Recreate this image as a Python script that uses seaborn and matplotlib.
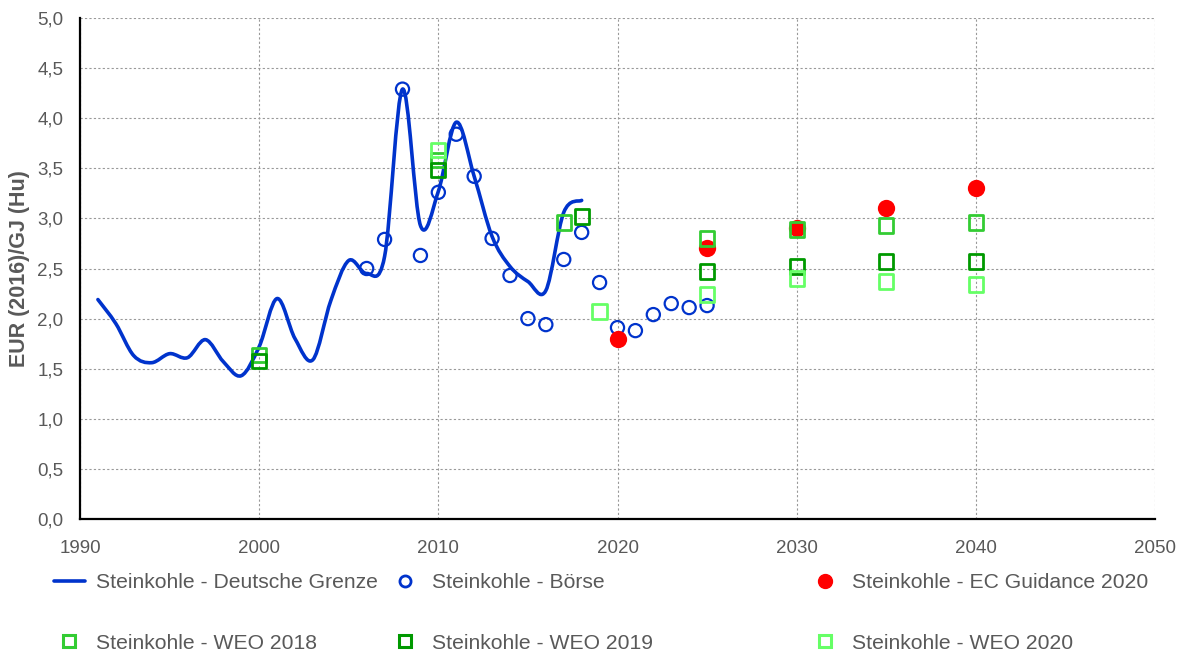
import numpy as np
import pandas as pd
import matplotlib
matplotlib.use("Agg")
import matplotlib.pyplot as plt
from matplotlib.path import Path
from matplotlib.patches import PathPatch
from matplotlib.lines import Line2D
from matplotlib.ticker import FuncFormatter, MultipleLocator
import seaborn as sns

# --- data ---
grenze_years = list(range(1991, 2019))
grenze_vals = [2.19, 1.95, 1.63, 1.56, 1.65, 1.61, 1.79, 1.57, 1.43, 1.72,
               2.20, 1.80, 1.59, 2.18, 2.58, 2.45, 2.62, 4.29, 2.93, 3.27,
               3.96, 3.42, 2.82, 2.52, 2.37, 2.28, 3.06, 3.18]

boerse_years = list(range(2006, 2026))
boerse_vals = [2.50, 2.79, 4.29, 2.63, 3.26, 3.84, 3.42, 2.80, 2.43, 2.00,
               1.94, 2.59, 2.86, 2.36, 1.91, 1.88, 2.04, 2.15, 2.11, 2.13]

ec_years = [2020, 2025, 2030, 2035, 2040]
ec_vals = [1.80, 2.70, 2.90, 3.10, 3.30]

weo18_years = [2000, 2010, 2017, 2025, 2030, 2035, 2040]
weo18_vals = [1.64, 3.58, 2.96, 2.80, 2.89, 2.93, 2.96]

weo19_years = [2000, 2010, 2018, 2025, 2030, 2035, 2040]
weo19_vals = [1.58, 3.48, 3.02, 2.47, 2.52, 2.57, 2.57]

weo20_years = [2010, 2019, 2025, 2030, 2035, 2040]
weo20_vals = [3.68, 2.07, 2.24, 2.40, 2.37, 2.34]

labels = ["Steinkohle - Deutsche Grenze", "Steinkohle - Börse",
          "Steinkohle - EC Guidance 2020", "Steinkohle - WEO 2018",
          "Steinkohle - WEO 2019", "Steinkohle - WEO 2020"]

BLUE = "#0033CC"
RED = "#FF0000"
G18 = "#33CC33"
G19 = "#009900"
G20 = "#66FF66"
GREY = "#595959"

sns.set_theme(style="white")
plt.rcParams["font.family"] = ["Liberation Sans", "DejaVu Sans"]

fig = plt.figure(figsize=(11.87, 6.55), dpi=100)
ax = fig.add_axes([80 / 1187, 1 - 519 / 655, (1155 - 80) / 1187, (519 - 18) / 655])

# smoothed line (Excel-style bezier through the yearly values)
pts = np.column_stack([grenze_years, grenze_vals]).astype(float)
n = len(pts)
verts = [pts[0]]
codes = [Path.MOVETO]
for i in range(n - 1):
    p0 = pts[max(i - 1, 0)]
    p1 = pts[i]
    p2 = pts[i + 1]
    p3 = pts[min(i + 2, n - 1)]
    verts += [p1 + (p2 - p0) / 6, p2 - (p3 - p1) / 6, p2]
    codes += [Path.CURVE4] * 3
ax.add_patch(PathPatch(Path(verts, codes), fill=False, edgecolor=BLUE,
                       lw=2.6, capstyle="round", joinstyle="round", zorder=2))

df_b = pd.DataFrame({"year": boerse_years, "val": boerse_vals})
sns.scatterplot(data=df_b, x="year", y="val", ax=ax, marker="o", s=90,
                facecolor="none", edgecolor=BLUE, linewidth=1.6, zorder=3)

df_ec = pd.DataFrame({"year": ec_years, "val": ec_vals})
sns.scatterplot(data=df_ec, x="year", y="val", ax=ax, marker="o", s=155,
                color=RED, edgecolor=RED, linewidth=0, zorder=4)

for yrs, vals, col in [(weo18_years, weo18_vals, G18),
                       (weo19_years, weo19_vals, G19),
                       (weo20_years, weo20_vals, G20)]:
    d = pd.DataFrame({"year": yrs, "val": vals})
    sns.scatterplot(data=d, x="year", y="val", ax=ax, marker="s", s=105,
                    facecolor="none", edgecolor=col, linewidth=2.0, zorder=5)

ax.set_xlim(1990, 2050)
ax.set_ylim(0, 5)
ax.xaxis.set_major_locator(MultipleLocator(10))
ax.yaxis.set_major_locator(MultipleLocator(0.5))
ax.yaxis.set_major_formatter(FuncFormatter(lambda v, p: f"{v:.1f}".replace(".", ",")))
ax.set_xlabel("")
ax.set_ylabel("EUR (2016)/GJ (Hu)", fontsize=15.5, fontweight="bold", color=GREY, labelpad=5)
ax.tick_params(axis="both", length=0, labelsize=13.5, labelcolor=GREY)
ax.tick_params(axis="x", pad=15)
ax.tick_params(axis="y", pad=12)
ax.grid(True, color="#999999", linestyle=(0, (2, 2)), linewidth=0.8)
ax.set_axisbelow(True)
for side in ["top", "right"]:
    ax.spines[side].set_visible(False)
for side in ["left", "bottom"]:
    ax.spines[side].set_color("black")
    ax.spines[side].set_linewidth(1.6)

# legend: three columns, two rows, below the plot
handles = [
    Line2D([], [], color=BLUE, lw=2.6),
    Line2D([], [], ls="none", marker="o", ms=8, mfc="none", mec=BLUE, mew=2.0),
    Line2D([], [], ls="none", marker="o", ms=10, mfc=RED, mec=RED),
    Line2D([], [], ls="none", marker="s", ms=9, mfc="none", mec=G18, mew=2.2),
    Line2D([], [], ls="none", marker="s", ms=9, mfc="none", mec=G19, mew=2.2),
    Line2D([], [], ls="none", marker="s", ms=9, mfc="none", mec=G20, mew=2.2),
]
col_x = [54, 390, 810]
for c in range(3):
    leg = fig.legend([handles[c], handles[c + 3]], [labels[c], labels[c + 3]],
                     loc="center left", bbox_to_anchor=(col_x[c] / 1187, 1 - 613 / 655),
                     frameon=False, fontsize=15.2, handlelength=1.45, handletextpad=0.55,
                     labelspacing=1.95, borderpad=0, borderaxespad=0)
    for t in leg.get_texts():
        t.set_color(GREY)

fig.savefig("out.png", dpi=100)
